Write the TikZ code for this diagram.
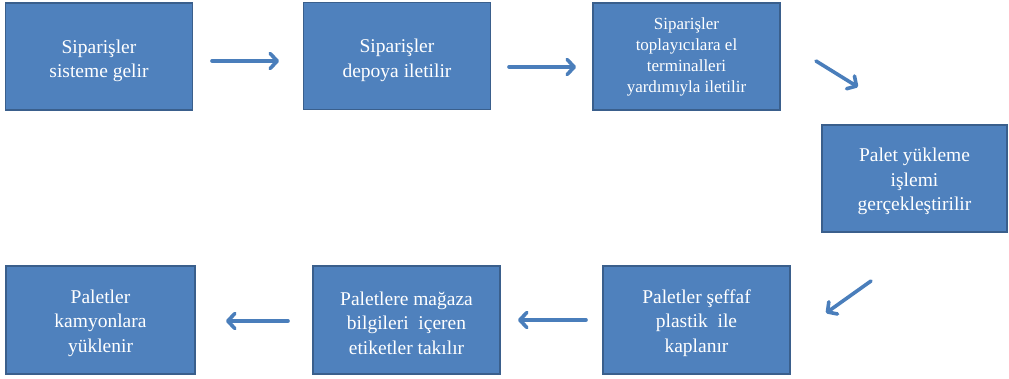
\documentclass[tikz,border=0pt]{standalone}
\usepackage{fontspec}
\setmainfont{Liberation Serif}
\usetikzlibrary{arrows.meta}
\definecolor{boxfill}{HTML}{4F81BD}
\definecolor{boxline}{HTML}{3A5F8C}
\definecolor{arrowc}{HTML}{4A7EBB}
\newcommand{\toppad}{\rule{0pt}{20pt}}
\begin{document}
\begin{tikzpicture}[x=1pt,y=-1pt,
  stepbox/.style={draw=boxline, line width=1.6pt, fill=boxfill, text=white,
    align=center, inner sep=0pt, outer sep=0pt,
    minimum width=187pt, minimum height=107pt,
    font=\fontsize{19.5}{24.5}\selectfont},
  flow/.style={draw=arrowc, line width=3.6pt, line cap=round,
    -{Straight Barb[length=7pt,width=15pt,line cap=round,line join=round]}}]
\useasboundingbox (0,0) rectangle (1009,379);

% process steps
\node[stepbox] (s1) at (99,56.5) {\rule{0pt}{22pt}Siparişler\\sisteme gelir};
\node[stepbox] (s2) at (397,56) {\rule{0pt}{22pt}Siparişler\\depoya iletilir};
\node[stepbox, font=\fontsize{17}{21}\selectfont] (s3) at (686.5,56.5)
  {Siparişler\\toplayıcılara el\\terminalleri\\yardımıyla iletilir};
\node[stepbox, minimum width=185pt] (s4) at (914.5,178.5)
  {\toppad Palet yükleme\\işlemi\\gerçekleştirilir};
\node[stepbox, minimum height=108pt] (s5) at (696.5,320)
  {\toppad Paletler şeffaf\\plastik\ \ ile\\kaplanır};
\node[stepbox, minimum height=108pt] (s6) at (406.5,320)
  {\toppad Paletlere mağaza\\bilgileri\ \ içeren\\etiketler takılır};
\node[stepbox, minimum width=189pt, minimum height=108pt] (s7) at (100.5,320)
  {\toppad Paletler\\kamyonlara\\yüklenir};

% arrow end points in the gaps between the steps
\coordinate (a1s) at (212,61);  \coordinate (a1e) at (279,61);
\coordinate (a2s) at (509,67);  \coordinate (a2e) at (576,67);
\coordinate (a3s) at (816,61);  \coordinate (a3e) at (858,87);
\coordinate (a4s) at (871,281); \coordinate (a4e) at (826,313);
\coordinate (a5s) at (586,320); \coordinate (a5e) at (518,320);
\coordinate (a6s) at (288,321); \coordinate (a6e) at (226,321);

\draw[flow] (a1s) -- (a1e);
\draw[flow] (a2s) -- (a2e);
\draw[flow] (a3s) -- (a3e);
\draw[flow] (a4s) -- (a4e);
\draw[flow] (a5s) -- (a5e);
\draw[flow] (a6s) -- (a6e);
\end{tikzpicture}
\end{document}
